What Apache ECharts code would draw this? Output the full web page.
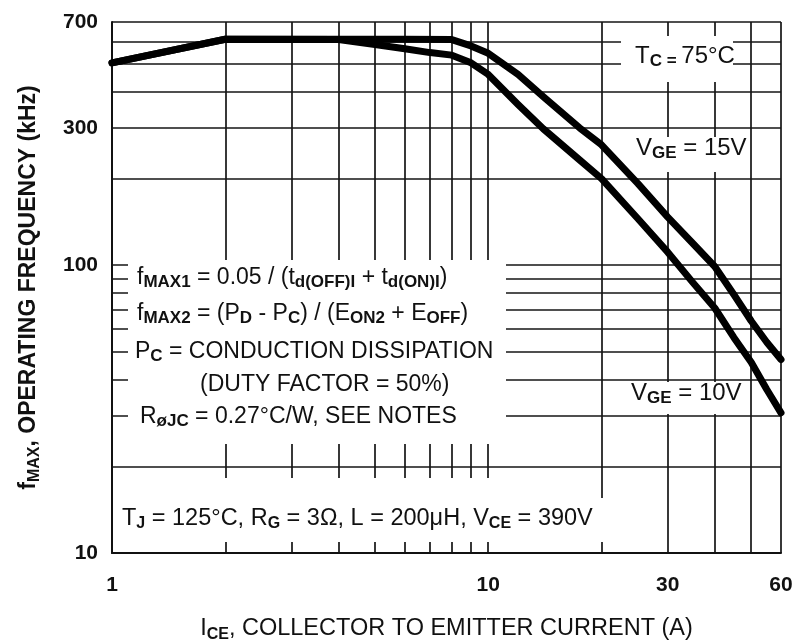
<!DOCTYPE html>
<html>
<head>
<meta charset="utf-8">
<title>fMAX vs ICE</title>
<script src="https://cdn.jsdelivr.net/npm/echarts@6/dist/echarts.min.js"></script>
<style>
  html, body { margin: 0; padding: 0; background: #fff; }
  #chart { width: 797px; height: 641px; }
</style>
</head>
<body>
<div id="chart"></div>
<script>
// Collector current (A) and maximum operating frequency (kHz)
const iceVge15 = [1, 2, 4, 6, 8, 9, 10, 12, 14, 17.5, 20, 25, 30, 35, 40, 45, 50, 55, 60];
const fmaxVge15 = [505, 610, 610, 610, 608, 578, 545, 460, 385, 300, 262, 192, 147, 119, 99, 79, 64, 54, 47];

const iceVge10 = [1, 2, 4, 5, 6, 7, 8, 9, 10, 12, 14, 17.5, 20, 25, 30, 35, 40, 45, 50, 55, 60];
const fmaxVge10 = [505, 610, 608, 585, 565, 548, 537, 505, 460, 362, 298, 232, 200, 145, 111, 87, 71, 56, 46, 37, 30.7];

// Axis ticks: labelled values and grid-line positions
const xTickLabels = [1, 10, 30, 60];
const yTickLabels = [10, 100, 300, 700];
const xGridValues = [1, 2, 3, 4, 5, 6, 7, 8, 9, 10, 20, 30, 40, 50, 60];
const yGridValues = [10, 20, 30, 40, 50, 60, 70, 80, 90, 100, 200, 300, 400, 500, 600, 700];

const FONT = '"Liberation Sans", Arial, Helvetica, sans-serif';
const INK = '#111';

function pairs(xs, ys) {
  return xs.map((x, i) => [x, ys[i]]);
}

// rich-text styles: main text plus bold subscripts
function richStyles(main, sub, lh) {
  return {
    m: { fontFamily: FONT, fontSize: main, color: INK, lineHeight: lh },
    s: { fontFamily: FONT, fontSize: sub, fontWeight: 'bold', color: INK,
         lineHeight: 12, verticalAlign: 'bottom' }
  };
}

const formulaRich = richStyles(23, 17, 26);
const conditionRich = richStyles(23.5, 16, 26);
const noteRich = richStyles(24, 17, 28);

function note(text, x, y, rich) {
  return {
    type: 'text', x: x, y: y, z: 51,
    style: {
      text: text, rich: rich, fill: INK,
      font: '22px ' + FONT,
      align: 'left', verticalAlign: 'middle',
      textAlign: 'left', textVerticalAlign: 'middle'
    }
  };
}

function blank(x, y, w, h) {
  return {
    type: 'rect', z: 50,
    shape: { x: x, y: y, width: w, height: h },
    style: { fill: '#fff' }
  };
}

const gridLine = { show: true, lineStyle: { color: '#151515', width: 1.7 } };

const chart = echarts.init(document.getElementById('chart'), null, { renderer: 'canvas' });

chart.setOption({
  animation: false,
  backgroundColor: '#fff',
  grid: { left: 112, right: 16, top: 22, bottom: 88, containLabel: false, outerBoundsMode: 'none' },
  xAxis: {
    type: 'log', logBase: 10, min: 1, max: 60,
    name: '{m|I}{s|CE}{m|, COLLECTOR TO EMITTER CURRENT (A)}',
    nameLocation: 'middle', nameGap: 62,
    nameTextStyle: {
      rich: {
        m: { fontFamily: FONT, fontSize: 23.5, color: INK, lineHeight: 28 },
        s: { fontFamily: FONT, fontSize: 16, fontWeight: 'bold', color: INK, lineHeight: 12, verticalAlign: 'bottom' }
      }
    },
    axisLine: { show: true, lineStyle: { color: INK, width: 2 } },
    axisTick: { show: false, customValues: xGridValues },
    splitLine: Object.assign({ customValues: xGridValues }, gridLine),
    axisLabel: {
      customValues: xTickLabels,
      formatter: v => String(Math.round(v)),
      fontFamily: FONT, fontSize: 21, fontWeight: 'bold', color: INK, margin: 22
    }
  },
  yAxis: {
    type: 'log', logBase: 10, min: 10, max: 700,
    name: '{m|f}{s|MAX}{m|, OPERATING FREQUENCY (kHz)}',
    nameLocation: 'middle', nameGap: 69, nameRotate: 90,
    nameTextStyle: {
      rich: {
        m: { fontFamily: FONT, fontSize: 23, fontWeight: 'bold', color: INK, lineHeight: 28 },
        s: { fontFamily: FONT, fontSize: 16, fontWeight: 'bold', color: INK, lineHeight: 12, verticalAlign: 'bottom' }
      }
    },
    axisLine: { show: true, lineStyle: { color: INK, width: 2 } },
    axisTick: { show: false, customValues: yGridValues },
    splitLine: Object.assign({ customValues: yGridValues }, gridLine),
    axisLabel: {
      customValues: yTickLabels,
      formatter: v => String(Math.round(v)),
      fontFamily: FONT, fontSize: 21, fontWeight: 'bold', color: INK, margin: 14
    }
  },
  series: [
    {
      name: 'VGE = 15V', type: 'line', z: 60,
      data: pairs(iceVge15, fmaxVge15),
      showSymbol: false, smooth: false,
      lineStyle: { color: '#000', width: 7, join: 'round', cap: 'round' }
    },
    {
      name: 'VGE = 10V', type: 'line', z: 60,
      data: pairs(iceVge10, fmaxVge10),
      showSymbol: false, smooth: false,
      lineStyle: { color: '#000', width: 7, join: 'round', cap: 'round' }
    }
  ],
  graphic: {
    elements: [
      // white panels behind the annotations
      blank(128, 260, 378, 184),
      blank(118, 478, 478, 64),
      blank(596, 498, 10, 44),
      blank(621, 36, 112, 46),
      blank(632, 137, 113, 35),
      blank(626, 382, 119, 32),
      // test conditions
      note('{m|f}{s|MAX1}{m| = 0.05 / (t}{s|d(OFF)I}{m| + t}{s|d(ON)I}{m|)}', 137, 278, formulaRich),
      note('{m|f}{s|MAX2}{m| = (P}{s|D}{m| - P}{s|C}{m|) / (E}{s|ON2}{m| + E}{s|OFF}{m|)}', 137, 314, formulaRich),
      note('{m|P}{s|C}{m| = CONDUCTION DISSIPATION}', 135, 352, formulaRich),
      note('{m|(DUTY FACTOR = 50%)}', 200, 385, formulaRich),
      note('{m|R}{s|øJC}{m| = 0.27°C/W, SEE NOTES}', 140, 417, formulaRich),
      note('{m|T}{s|J}{m| = 125°C, R}{s|G}{m| = 3Ω, L = 200μH, V}{s|CE}{m| = 390V}', 122, 519, conditionRich),
      // curve labels
      note('{m|T}{s|C = }{m|75°C}', 635, 56, noteRich),
      note('{m|V}{s|GE}{m| = 15V}', 636, 148, noteRich),
      note('{m|V}{s|GE}{m| = 10V}', 631, 393, noteRich)
    ]
  }
});
</script>
</body>
</html>
